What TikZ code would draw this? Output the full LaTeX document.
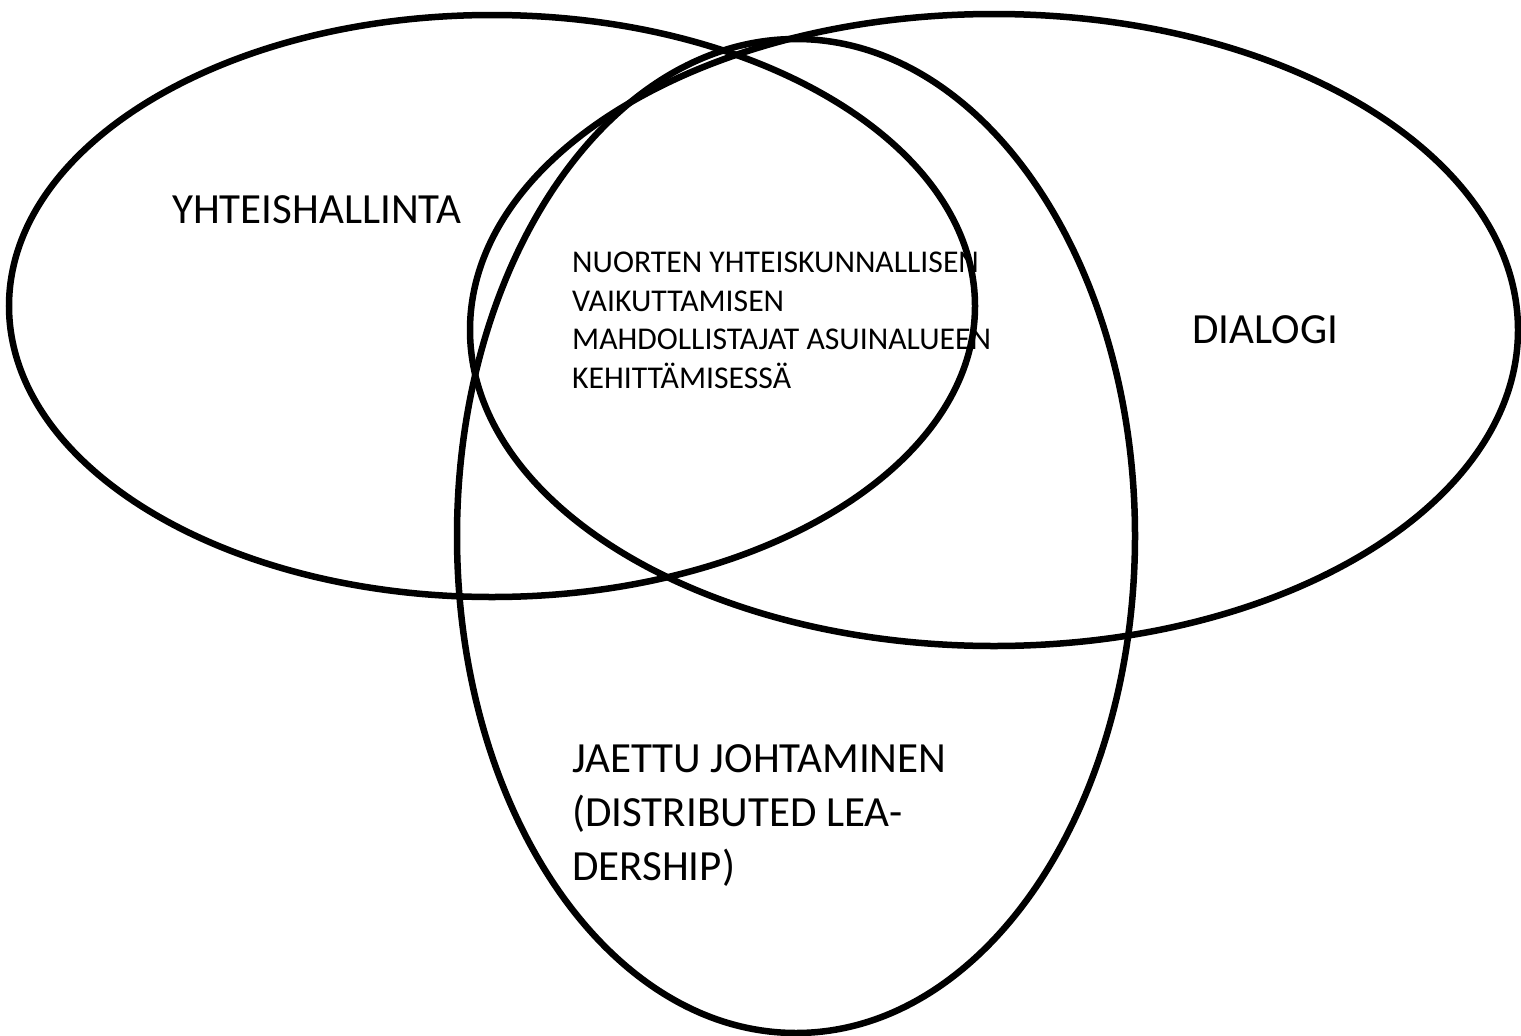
\documentclass[tikz,border=0pt]{standalone}
\usepackage{fontspec}
\setmainfont{Carlito}
\begin{document}
\begin{tikzpicture}[x=1pt,y=-1pt,
  ring/.style={line width=6.5pt, draw=black},
  biglabel/.style={anchor=base west, inner sep=0pt, font=\fontsize{43}{54}\selectfont},
  smalllabel/.style={anchor=base west, inner sep=0pt, align=left, font=\fontsize{31.7}{38.5}\selectfont}]
\useasboundingbox (0,0) rectangle (1521,1036);
\draw[ring] (492,306) ellipse [x radius=483pt, y radius=291pt];
\draw[ring] (994,330) ellipse [x radius=524pt, y radius=316pt];
\draw[ring] (796,536) ellipse [x radius=339pt, y radius=497pt];
\node[biglabel] (yh) at (172,223) {YHTEISHALLINTA};
\node[biglabel] (di) at (1192,343) {DIALOGI};
\node[smalllabel] (nu) at (572,388) {NUORTEN YHTEISKUNNALLISEN\\VAIKUTTAMISEN\\MAHDOLLISTAJAT ASUINALUEEN\\KEHITTÄMISESSÄ};
\node[biglabel, align=left] (ja) at (572,880) {JAETTU JOHTAMINEN\\(DISTRIBUTED LEA-\\DERSHIP)};
\end{tikzpicture}
\end{document}
